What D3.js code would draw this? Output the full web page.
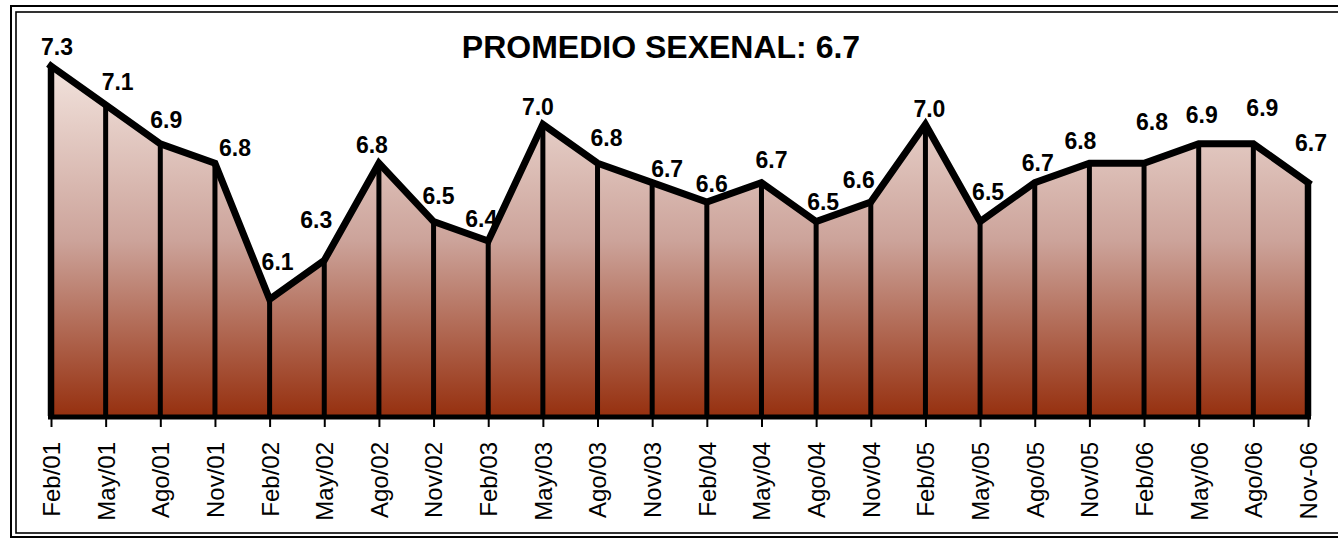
<!DOCTYPE html>
<html>
<head>
<meta charset="utf-8">
<script src="https://cdn.jsdelivr.net/npm/d3@7"></script>
<style>
  html, body { margin: 0; padding: 0; background: #fff; }
  svg { display: block; font-family: Arial, 'Liberation Sans', sans-serif; }
</style>
</head>
<body>
<div id="chart"></div>
<script>
const months = ['Feb/01', 'May/01', 'Ago/01', 'Nov/01', 'Feb/02', 'May/02', 'Ago/02', 'Nov/02',
  'Feb/03', 'May/03', 'Ago/03', 'Nov/03', 'Feb/04', 'May/04', 'Ago/04', 'Nov/04',
  'Feb/05', 'May/05', 'Ago/05', 'Nov/05', 'Feb/06', 'May/06', 'Ago/06', 'Nov-06'];

const values = [7.3, 7.1, 6.9, 6.8, 6.1, 6.3, 6.8, 6.5, 6.4, 7.0, 6.8, 6.7,
  6.6, 6.7, 6.5, 6.6, 7.0, 6.5, 6.7, 6.8, 6.8, 6.9, 6.9, 6.7];

const title = 'PROMEDIO SEXENAL: 6.7';

// hand placed label nudges (the original labels were dragged around)
const labelDx = [6, 12, 6, 20, 8, -8, -7, 5, -7, -5, 9, 15, 5, 10, 7, -12, 4, 8, 3, -9, 8, 3, 9, 3];
const labelDy = [-19, -23, -24, -16, -38, -41, -19, -26, -22, -18, -26, -14, -18, -23, -20, -22, -16, -30, -20, -23, -42, -29, -36, -40];

const width = 1338;
const height = 539;
const base = 416;

const svg = d3.select('#chart')
  .append('svg')
  .attr('width', width)
  .attr('height', height);

const x = d3.scalePoint()
  .domain(months)
  .range([51, 1308]);

const y = d3.scaleLinear()
  .domain([5.5, 7.3])
  .range([base, 66]);

const data = months.map((m, i) => ({ month: m, value: values[i], i: i }));

function drawFrame() {
  svg.append('rect')
    .attr('x', 11).attr('y', 6)
    .attr('width', width).attr('height', 531)
    .attr('fill', 'none').attr('stroke', '#000').attr('stroke-width', 2);
  svg.append('rect')
    .attr('x', 16).attr('y', 12)
    .attr('width', width).attr('height', 521)
    .attr('fill', 'none').attr('stroke', '#000').attr('stroke-width', 1.6);

  svg.append('text')
    .attr('x', 661).attr('y', 58)
    .attr('text-anchor', 'middle')
    .attr('font-size', 32)
    .attr('font-weight', 'bold')
    .text(title);
}

function drawArea() {
  const grad = svg.append('defs').append('linearGradient')
    .attr('id', 'fill')
    .attr('gradientUnits', 'userSpaceOnUse')
    .attr('x1', 0).attr('y1', y.range()[1])
    .attr('x2', 0).attr('y2', base);
  grad.append('stop').attr('offset', '0%').attr('stop-color', '#f2e3dd');
  grad.append('stop').attr('offset', '50%').attr('stop-color', '#cca39a');
  grad.append('stop').attr('offset', '100%').attr('stop-color', '#96300f');

  const area = d3.area()
    .x(d => x(d.month))
    .y0(base)
    .y1(d => y(d.value));

  svg.append('path')
    .datum(data)
    .attr('d', area)
    .attr('fill', 'url(#fill)');

  // drop lines
  svg.append('g')
    .selectAll('line')
    .data(data)
    .enter().append('line')
    .attr('x1', d => x(d.month))
    .attr('x2', d => x(d.month))
    .attr('y1', d => y(d.value))
    .attr('y2', base)
    .attr('stroke', '#000')
    .attr('stroke-width', d => (d.i === 0 || d.i === data.length - 1) ? 6.5 : 5);

  // baseline
  svg.append('line')
    .attr('x1', x(months[0]) - 3)
    .attr('x2', x(months[months.length - 1]) + 3)
    .attr('y1', base + 1).attr('y2', base + 1)
    .attr('stroke', '#000')
    .attr('stroke-width', 5);

  const line = d3.line()
    .x(d => x(d.month))
    .y(d => y(d.value));

  svg.append('path')
    .datum(data)
    .attr('d', line)
    .attr('fill', 'none')
    .attr('stroke', '#000')
    .attr('stroke-width', 7)
    .attr('stroke-linejoin', 'miter')
    .attr('stroke-linecap', 'square');
}

function drawLabels() {
  svg.append('g')
    .selectAll('text')
    .data(data)
    .enter().append('text')
    .attr('x', d => x(d.month) + labelDx[d.i])
    .attr('y', d => y(d.value) + labelDy[d.i])
    .attr('dy', '0.36em')
    .attr('text-anchor', 'middle')
    .attr('font-size', 23)
    .attr('font-weight', 'bold')
    .text(d => d.value.toFixed(1));
}

function drawAxis() {
  const axis = svg.append('g')
    .attr('transform', `translate(0, ${base + 3})`)
    .call(d3.axisBottom(x).tickSize(8).tickSizeOuter(0));

  axis.select('.domain').remove();
  axis.selectAll('.tick line').attr('stroke', '#000').attr('stroke-width', 2);
  axis.selectAll('.tick text')
    .attr('transform', 'rotate(-90)')
    .attr('x', -23)
    .attr('y', 0)
    .attr('dy', '0.35em')
    .attr('text-anchor', 'end')
    .attr('font-size', 24)
    .attr('font-family', "Arial, 'Liberation Sans', sans-serif")
    .attr('fill', '#000');
}

drawFrame();
drawArea();
drawLabels();
drawAxis();
</script>
</body>
</html>
